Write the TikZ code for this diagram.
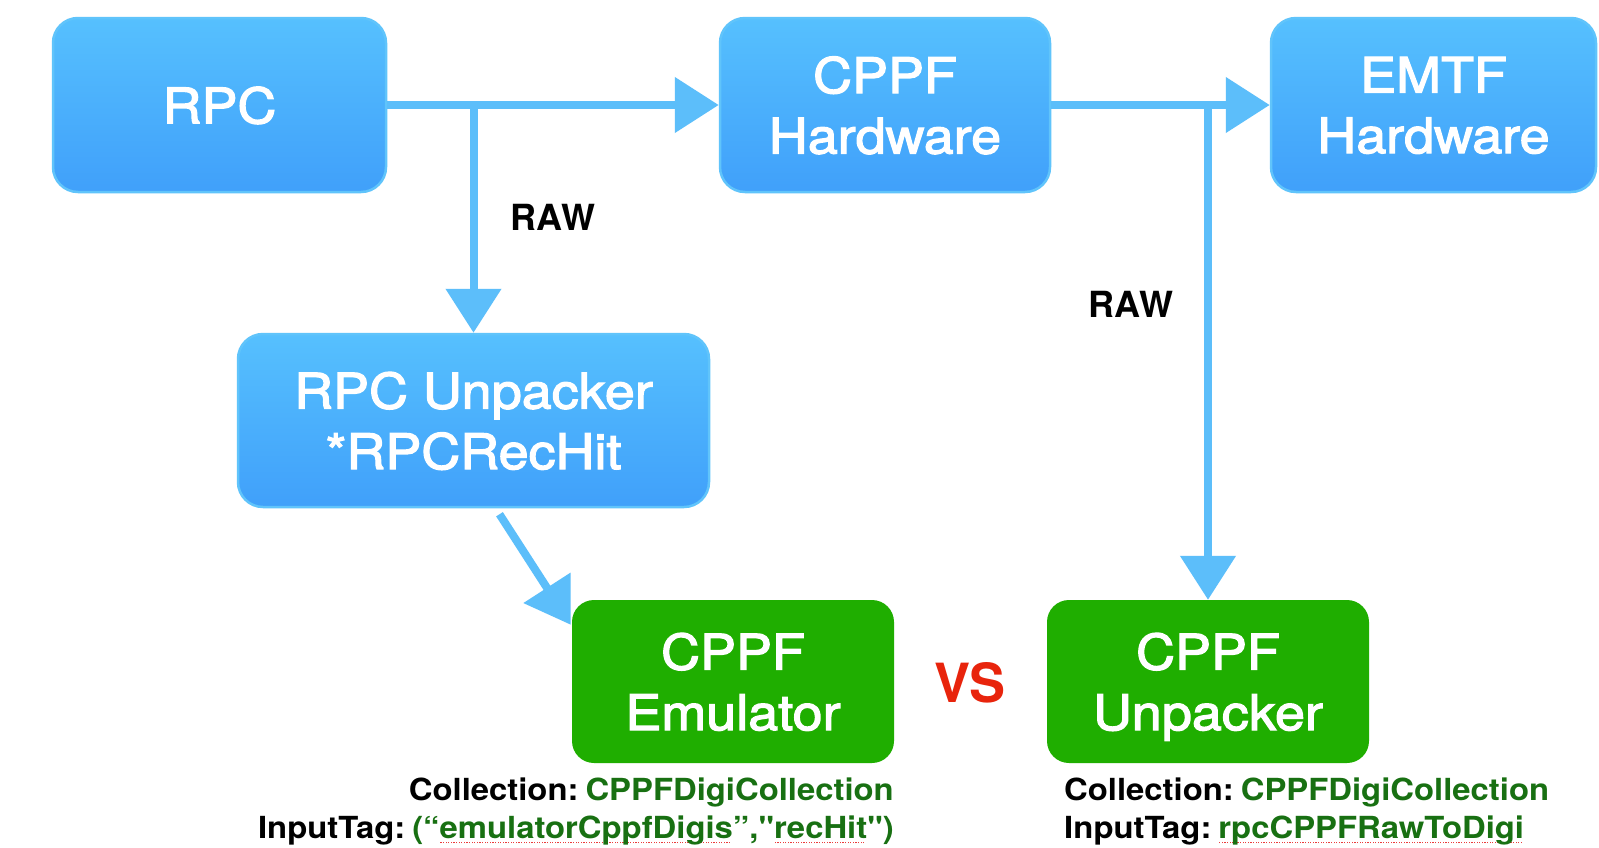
\documentclass[tikz,border=0pt]{standalone}
\usepackage{fontspec}
\setmainfont{TeX Gyre Heros}
\newfontfamily\boxfont[FakeStretch=1.1,FakeBold=2.5]{TeX Gyre Heros}
\newfontfamily\labfont[FakeStretch=1.08]{TeX Gyre Heros}
\usetikzlibrary{arrows.meta,calc}
\definecolor{bluetop}{RGB}{86,192,254}
\definecolor{bluebot}{RGB}{64,160,250}
\definecolor{blueedge}{RGB}{96,196,251}
\definecolor{arrowblue}{RGB}{92,190,250}
\definecolor{boxgreen}{RGB}{31,174,0}
\definecolor{dgreen}{RGB}{24,112,18}
\definecolor{vsred}{RGB}{232,36,12}
\definecolor{spellred}{RGB}{235,60,60}
\newsavebox\ulbox
\newcommand\spellul[1]{\sbox\ulbox{#1}\rlap{\raisebox{-5pt}{\color{spellred}\leaders\hbox to 2.6pt{\hss\rule{1.2pt}{1.2pt}\hss}\hskip\wd\ulbox}}\usebox\ulbox}
\newcommand\gap{\hspace{7pt}}
\tikzset{
  bluebox/.style={rounded corners=25pt, top color=bluetop, bottom color=bluebot,
    draw=blueedge, line width=2.5pt, text=white, align=center, inner sep=0pt,
    text depth=0pt, font=\boxfont\fontsize{49}{60.5}\selectfont},
  greenbox/.style={rounded corners=22pt, fill=boxgreen, draw=none, text=white,
    align=center, inner sep=0pt, text depth=0pt,
    font=\boxfont\fontsize{49}{60.5}\selectfont},
  conn/.style={draw=arrowblue, line width=8pt,
    -{Triangle[length=44pt 0 0, width=54pt 0 0]}},
  rawlab/.style={font=\bfseries\fontsize{36}{40}\selectfont, inner sep=0pt, text depth=0pt},
  info/.style={font=\labfont\bfseries\fontsize{30.4}{36}\selectfont, inner sep=0pt}
}
\begin{document}
\begin{tikzpicture}[x=1pt,y=-1pt]
\useasboundingbox[fill=white] (0,0) rectangle (1599,847);

\node[bluebox, minimum width=333pt, minimum height=174pt] (rpc) at (219.5,105) {RPC};
\node[bluebox, minimum width=330pt, minimum height=174pt] (cppf) at (885,105) {CPPF\\Hardware};
\node[bluebox, minimum width=325pt, minimum height=174pt] (emtf) at (1433.5,105) {EMTF\\Hardware};
\node[bluebox, minimum width=471pt, minimum height=173pt] (rpcu) at (473.5,420.5) {RPC Unpacker\\*RPCRecHit};
\node[greenbox, minimum width=322pt, minimum height=163pt] (emu) at (733,681.5) {CPPF\\Emulator};
\node[greenbox, minimum width=322pt, minimum height=163pt] (cppfu) at (1208,681.5) {CPPF\\Unpacker};

\draw[conn] (rpc.east) -- (cppf.west);
\draw[conn] (cppf.east) -- (emtf.west);
\draw[conn] (rpc.east -| rpcu.north) -- (rpcu.north);
\draw[conn] (cppf.east -| cppfu.north) -- (cppfu.north);
\draw[conn] ($(rpcu.south)+(26,6)$) -- ($(emu.north west)+(-1,25)$);

\node[rawlab] (raw1) at (553,217) {RAW};
\node[rawlab] (raw2) at (1131,304) {RAW};

\node[font=\bfseries\fontsize{54}{60}\selectfont, text=vsred, inner sep=0pt, text depth=0pt] (vs) at (970,682) {VS};

\node[info, anchor=base east] (c1) at (894,800) {Collection:\gap\textcolor{dgreen}{CPPFDigiCollection}};
\node[info, anchor=base east] (t1) at (894,838) {InputTag:\gap\textcolor{dgreen}{(“\spellul{emulatorCppfDigis}”,"\spellul{recHit}")}};
\node[info, anchor=base west] (c2) at (1064,800) {Collection:\gap\textcolor{dgreen}{CPPFDigiCollection}};
\node[info, anchor=base west] (t2) at (1064,838) {InputTag:\gap\textcolor{dgreen}{\spellul{rpcCPPFRawToDigi}}};
\end{tikzpicture}
\end{document}
